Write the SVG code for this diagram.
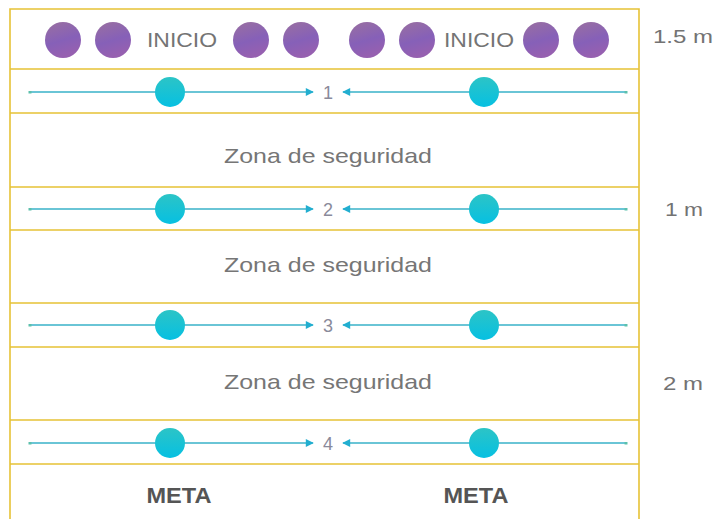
<svg xmlns="http://www.w3.org/2000/svg" width="716" height="519" viewBox="0 0 716 519">
<defs>
<linearGradient id="gp" x1="0" y1="0" x2="0.3" y2="1">
<stop offset="0" stop-color="#9a70a0"/>
<stop offset="0.6" stop-color="#8660b8"/>
<stop offset="1" stop-color="#9660b0"/>
</linearGradient>
<linearGradient id="gc" x1="0" y1="0" x2="0" y2="1">
<stop offset="0" stop-color="#2cc4c6"/>
<stop offset="1" stop-color="#06c0e2"/>
</linearGradient>
<marker id="ah" viewBox="0 0 10 10" refX="9" refY="5" markerWidth="9" markerHeight="8" markerUnits="userSpaceOnUse" orient="auto">
<path d="M0,0 L10,5 L0,10 Z" fill="#22aed0"/>
</marker>
<marker id="tail" viewBox="0 0 10 10" refX="5" refY="5" markerWidth="5" markerHeight="3" markerUnits="userSpaceOnUse" orient="auto">
<rect x="0" y="0" width="10" height="10" fill="#5cc0ac"/>
</marker>
</defs>
<style>
.frame{stroke:#e6c236;stroke-width:1.6;fill:none}
.pc{fill:url(#gp)}
.cc{fill:url(#gc)}
.lbl{font-family:"Liberation Sans",Arial,sans-serif;fill:#747474;font-size:21px}
.zona{font-family:"Liberation Sans",Arial,sans-serif;fill:#767676;font-size:21px;text-anchor:middle}
.num{font-family:"Liberation Sans",Arial,sans-serif;fill:#8a8a9a;font-size:18px;text-anchor:middle}
.dist{font-family:"Liberation Sans",Arial,sans-serif;fill:#737373;font-size:19px}
.meta{font-family:"Liberation Sans",Arial,sans-serif;fill:#555;font-size:22px;font-weight:bold;text-anchor:middle}
.arr{stroke:#38b2c8;stroke-width:1.5;fill:none;marker-end:url(#ah);marker-start:url(#tail)}
</style>
<rect width="716" height="519" fill="#ffffff"/>
<g id="frame" class="frame">
<path d="M10,519 V9 H639 V519"/>
<path d="M10,69 H639 M10,113 H639 M10,187 H639 M10,230 H639 M10,303 H639 M10,347 H639 M10,420 H639 M10,464 H639"/>
</g>
<g id="inicio-izq">
<circle class="pc" cx="63" cy="40" r="18"/>
<circle class="pc" cx="113" cy="40" r="18"/>
<text class="lbl" x="147" y="47" textLength="70" lengthAdjust="spacingAndGlyphs">INICIO</text>
<circle class="pc" cx="251" cy="40" r="18"/>
<circle class="pc" cx="301" cy="40" r="18"/>
</g>
<g id="inicio-der">
<circle class="pc" cx="367" cy="40" r="18"/>
<circle class="pc" cx="417" cy="40" r="18"/>
<text class="lbl" x="444" y="47" textLength="70" lengthAdjust="spacingAndGlyphs">INICIO</text>
<circle class="pc" cx="541" cy="40" r="18"/>
<circle class="pc" cx="591" cy="40" r="18"/>
</g>
<g id="connectors">
<line class="arr" x1="30" y1="92" x2="313" y2="92"/>
<line class="arr" x1="626" y1="92" x2="343" y2="92"/>
<line class="arr" x1="30" y1="209" x2="313" y2="209"/>
<line class="arr" x1="626" y1="209" x2="343" y2="209"/>
<line class="arr" x1="30" y1="325" x2="313" y2="325"/>
<line class="arr" x1="626" y1="325" x2="343" y2="325"/>
<line class="arr" x1="30" y1="443" x2="313" y2="443"/>
<line class="arr" x1="626" y1="443" x2="343" y2="443"/>
</g>
<g id="fila-1">
<circle class="cc" cx="170" cy="92" r="15"/>
<circle class="cc" cx="484" cy="92" r="15"/>
<text class="num" x="328" y="99">1</text>
</g>
<g id="zona-1"><text class="zona" x="328" y="163" textLength="208" lengthAdjust="spacingAndGlyphs">Zona de seguridad</text></g>
<g id="fila-2">
<circle class="cc" cx="170" cy="209" r="15"/>
<circle class="cc" cx="484" cy="209" r="15"/>
<text class="num" x="328" y="216">2</text>
</g>
<g id="zona-2"><text class="zona" x="328" y="272" textLength="208" lengthAdjust="spacingAndGlyphs">Zona de seguridad</text></g>
<g id="fila-3">
<circle class="cc" cx="170" cy="325" r="15"/>
<circle class="cc" cx="484" cy="325" r="15"/>
<text class="num" x="328" y="332">3</text>
</g>
<g id="zona-3"><text class="zona" x="328" y="389" textLength="208" lengthAdjust="spacingAndGlyphs">Zona de seguridad</text></g>
<g id="fila-4">
<circle class="cc" cx="170" cy="443" r="15"/>
<circle class="cc" cx="484" cy="443" r="15"/>
<text class="num" x="328" y="450">4</text>
</g>
<g id="meta-izq"><text class="meta" x="179" y="503" textLength="65" lengthAdjust="spacingAndGlyphs">META</text></g>
<g id="meta-der"><text class="meta" x="476" y="503" textLength="65" lengthAdjust="spacingAndGlyphs">META</text></g>
<g id="distancias">
<text class="dist" x="653" y="43" textLength="60" lengthAdjust="spacingAndGlyphs">1.5 m</text>
<text class="dist" x="665" y="216" textLength="38" lengthAdjust="spacingAndGlyphs">1 m</text>
<text class="dist" x="663" y="390" textLength="40" lengthAdjust="spacingAndGlyphs">2 m</text>
</g>
</svg>
